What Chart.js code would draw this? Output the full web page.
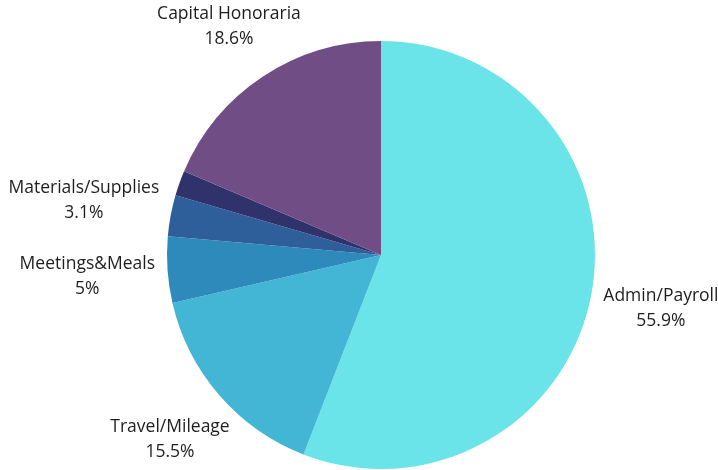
<!DOCTYPE html>
<html>
<head>
<meta charset="utf-8">
<script src="https://cdn.jsdelivr.net/npm/chart.js@4"></script>
<style>
	html, body { margin: 0; padding: 0; background: #fff; }
	#wrap { width: 718px; height: 470px; }
</style>
</head>
<body>
<div id="wrap"><canvas id="budgetChart"></canvas></div>
<script>
// Budget breakdown, clockwise from 12 o'clock
const categories = ['Admin/Payroll', 'Travel/Mileage', 'Meetings&Meals', 'Materials/Supplies', '', 'Capital Honoraria'];
const shares     = [55.9, 15.5, 5, 3.1, 1.9, 18.6];
const shareText  = ['55.9%', '15.5%', '5%', '3.1%', '', '18.6%'];
const colors     = ['#6ae4e8', '#43b5d5', '#2d8abb', '#2e5f9b', '#2f326b', '#714d86'];

// Draw the category + percent label outside each slice
const outsideLabels = {
	id: 'outsideLabels',
	afterDatasetsDraw(chart) {
		let ctx = chart.ctx;
		let meta = chart.getDatasetMeta(0);
		ctx.save();
		ctx.font = '17.5px "Open Sans", sans-serif';
		ctx.fillStyle = '#1e1e1e';
		ctx.textAlign = 'center';
		ctx.textBaseline = 'middle';

		meta.data.forEach((arc, i) => {
			if (!categories[i]) return;
			let mid = (arc.startAngle + arc.endAngle) / 2;
			let cos = Math.cos(mid), sin = Math.sin(mid);
			let hw = Math.max(ctx.measureText(categories[i]).width, ctx.measureText(shareText[i]).width) / 2;
			let hh = 12;
			let dist = arc.outerRadius + 12 + hw * Math.abs(cos) + hh * Math.abs(sin);
			let x = arc.x + cos * dist;
			let y = arc.y + sin * dist;
			ctx.fillText(categories[i], x, y - 11);
			ctx.fillText(shareText[i], x, y + 14);
		});
		ctx.restore();
	}
};

let budgetCtx = document.getElementById('budgetChart');
let budgetChart = new Chart(budgetCtx, {
	type: 'pie',
	data: {
		labels: categories,
		datasets: [{
			data: shares,
			backgroundColor: colors,
			borderWidth: 0,
		}],
	},
	options: {
		responsive: true,
		maintainAspectRatio: false,
		animation: false,
		layout: {
			padding: { top: 41, bottom: 1, left: 167, right: 123 },
		},
		plugins: {
			legend: { display: false },
			tooltip: { enabled: false },
		},
	},
	plugins: [outsideLabels],
});
</script>
</body>
</html>
